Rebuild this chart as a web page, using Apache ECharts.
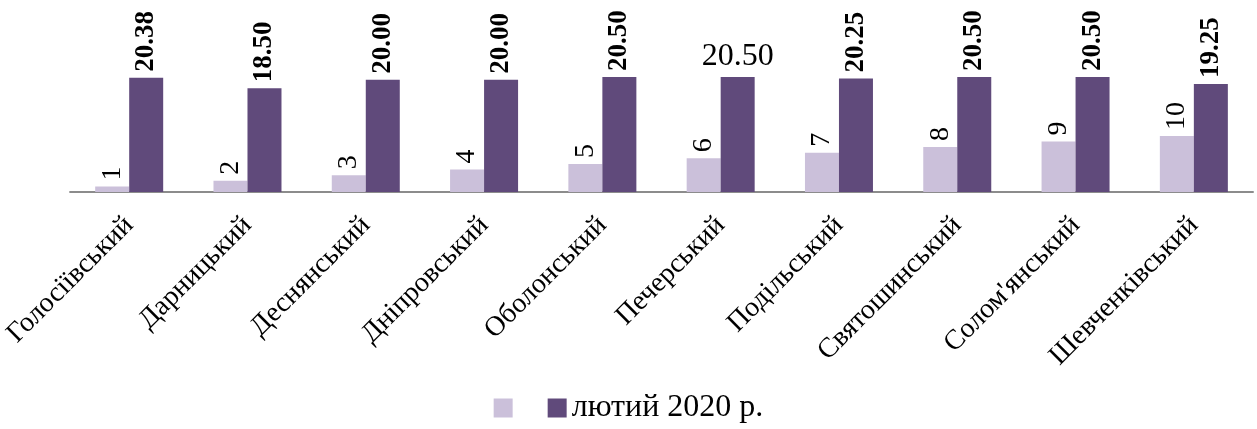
<!DOCTYPE html>
<html><head><meta charset="utf-8">
<script src="https://cdn.jsdelivr.net/npm/echarts@6/dist/echarts.min.js"></script>
<style>html,body{margin:0;padding:0;background:#fff}#c{width:1257px;height:429px}</style>
</head><body><div id="c"></div>
<script>
const categories = ['Голосіївський','Дарницький','Деснянський','Дніпровський','Оболонський','Печерський','Подільський','Святошинський',"Солом'янський",'Шевченківський'];
const rankValues = [1,2,3,4,5,6,7,8,9,10];
const febValues = [20.38,18.50,20.00,20.00,20.50,20.50,20.25,20.50,20.50,19.25];
const seriesNames = [' ', 'лютий 2020 р.'];
const FONT = 'Liberation Serif';

const febData = febValues.map((v, i) => i === 5 ? {
  value: v,
  label: { rotate: 0, align: 'center', verticalAlign: 'bottom', fontWeight: 'normal', fontSize: 32, distance: 4 }
} : v);

const chart = echarts.init(document.getElementById('c'));
chart.setOption({
  animation: false,
  textStyle: { fontFamily: FONT, fontSize: 28 },
  grid: { left: 68, right: 4, top: 77, bottom: 237, containLabel: false },
  legend: {
    bottom: 0, left: 'center', icon: 'rect', itemWidth: 19, itemHeight: 19, itemGap: 22,
    data: seriesNames,
    textStyle: { fontFamily: FONT, fontSize: 32, color: '#000' }
  },
  xAxis: {
    type: 'category', data: categories,
    axisLine: { lineStyle: { color: '#8c8c8c', width: 2 } },
    axisTick: { length: 11, lineStyle: { color: '#8c8c8c', width: 2 } },
    axisLabel: { rotate: 45, interval: 0, margin: 29, fontFamily: FONT, fontSize: 28, color: '#000' }
  },
  yAxis: { type: 'value', min: 0, max: 20.5, show: false, splitLine: { show: false } },
  series: [
    {
      name: seriesNames[0], type: 'bar', data: rankValues, barWidth: 34, barGap: '0%',
      itemStyle: { color: '#CBC0DA' },
      label: { show: true, position: 'top', rotate: 90, align: 'left', verticalAlign: 'middle', distance: 6,
        fontFamily: FONT, fontSize: 28, color: '#000' }
    },
    {
      name: seriesNames[1], type: 'bar', data: febData, barWidth: 34,
      itemStyle: { color: '#604A7B' },
      label: { show: true, position: 'top', rotate: 90, align: 'left', verticalAlign: 'middle', distance: 6,
        fontFamily: FONT, fontSize: 27, fontWeight: 'bold', color: '#000',
        formatter: p => p.value.toFixed(2) }
    }
  ]
});
</script></body></html>
